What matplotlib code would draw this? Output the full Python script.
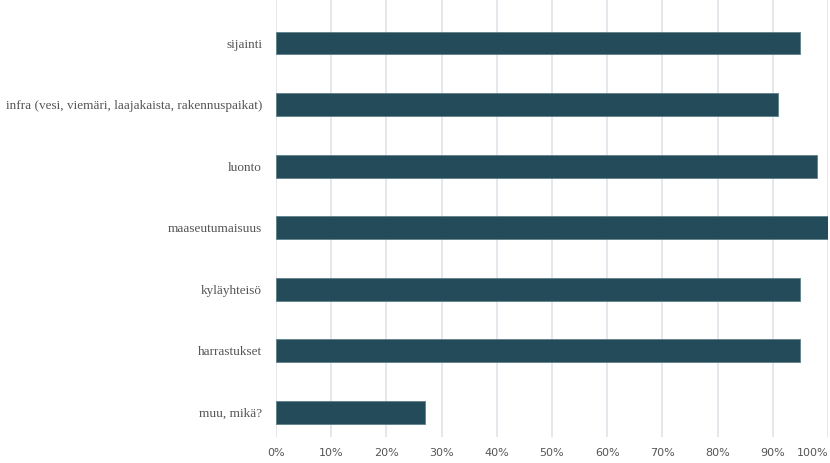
import numpy as np
import matplotlib
matplotlib.use("Agg")
from matplotlib import pyplot as plt
from matplotlib.ticker import PercentFormatter

categories = ["sijainti",
              "infra (vesi, viemäri, laajakaista, rakennuspaikat)",
              "luonto",
              "maaseutumaisuus",
              "kyläyhteisö",
              "harrastukset",
              "muu, mikä?"]
values = [95, 91, 98, 100, 95, 95, 27]
ticks = list(range(0, 101, 10))

fig = plt.figure(figsize=(8.3, 4.63), dpi=100)
ax = fig.add_axes([276 / 830, 1 - 437 / 463, 552 / 830, 437 / 463])

y = np.arange(len(categories))
ax.barh(y, values, height=0.37, color="#234b59", edgecolor="#5d7f8a",
        linewidth=0.6, zorder=3)

ax.set_xlim(0, 100)
ax.set_ylim(6.4, -0.7)
ax.set_xticks(ticks)
ax.xaxis.set_major_formatter(PercentFormatter(decimals=0))
ax.set_yticks(y)
ax.set_yticklabels(categories, family="Liberation Serif", fontsize=9.5,
                   color="#555555")
ax.tick_params(axis="y", length=0, pad=10)
ax.tick_params(axis="x", length=0, pad=8, labelsize=8, labelcolor="#555555")
ax.grid(axis="x", color="#e2e2ea", linewidth=1.2, zorder=0)
for s in ax.spines.values():
    s.set_visible(False)

# keep the last tick label inside the figure
ax.get_xticklabels()[-1].set_horizontalalignment("right")

fig.savefig("out.png", dpi=100)
